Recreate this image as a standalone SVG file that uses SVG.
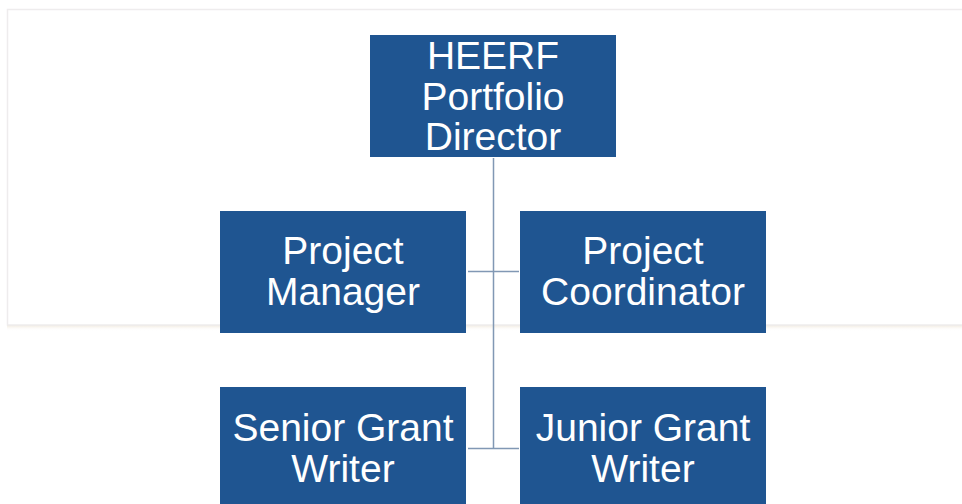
<svg xmlns="http://www.w3.org/2000/svg" width="962" height="504" viewBox="0 0 962 504">
  <defs>
    <linearGradient id="shadow" x1="0" y1="0" x2="0" y2="1">
      <stop offset="0" stop-color="#efe8dc"/>
      <stop offset="1" stop-color="#ffffff" stop-opacity="0"/>
    </linearGradient>
  </defs>
  <style>
    .box { fill: #1f5591; }
    .lbl { fill: #ffffff; font-family: "Liberation Sans", Arial, sans-serif; font-size: 39px; text-anchor: middle; }
    .conn { stroke: #8198b4; stroke-width: 1.5; fill: none; }
  </style>
  <rect width="962" height="504" fill="#ffffff"/>
  <g id="panel">
    <rect x="7" y="325" width="960" height="6" fill="url(#shadow)"/>
    <rect x="7.5" y="9.5" width="960" height="315.5" fill="#ffffff" stroke="#eeeced" stroke-width="1.5"/>
  </g>
  <g id="connectors">
    <line class="conn" x1="493.5" y1="158" x2="493.5" y2="448.5"/>
    <line class="conn" x1="468" y1="271.5" x2="519" y2="271.5"/>
    <line class="conn" x1="468" y1="448.5" x2="519" y2="448.5"/>
  </g>
  <g id="director">
    <rect class="box" x="370" y="35" width="246" height="122"/>
    <text class="lbl" x="493" y="69">HEERF</text>
    <text class="lbl" x="493" y="109.5">Portfolio</text>
    <text class="lbl" x="493" y="150">Director</text>
  </g>
  <g id="project-manager">
    <rect class="box" x="220" y="211" width="246" height="122"/>
    <text class="lbl" x="343" y="264">Project</text>
    <text class="lbl" x="343" y="305">Manager</text>
  </g>
  <g id="project-coordinator">
    <rect class="box" x="520" y="211" width="246" height="122"/>
    <text class="lbl" x="643" y="264">Project</text>
    <text class="lbl" x="643" y="305">Coordinator</text>
  </g>
  <g id="senior-grant-writer">
    <rect class="box" x="220" y="387" width="246" height="122"/>
    <text class="lbl" x="343" y="440.5">Senior Grant</text>
    <text class="lbl" x="343" y="481.5">Writer</text>
  </g>
  <g id="junior-grant-writer">
    <rect class="box" x="520" y="387" width="246" height="122"/>
    <text class="lbl" x="643" y="440.5">Junior Grant</text>
    <text class="lbl" x="643" y="481.5">Writer</text>
  </g>
</svg>
